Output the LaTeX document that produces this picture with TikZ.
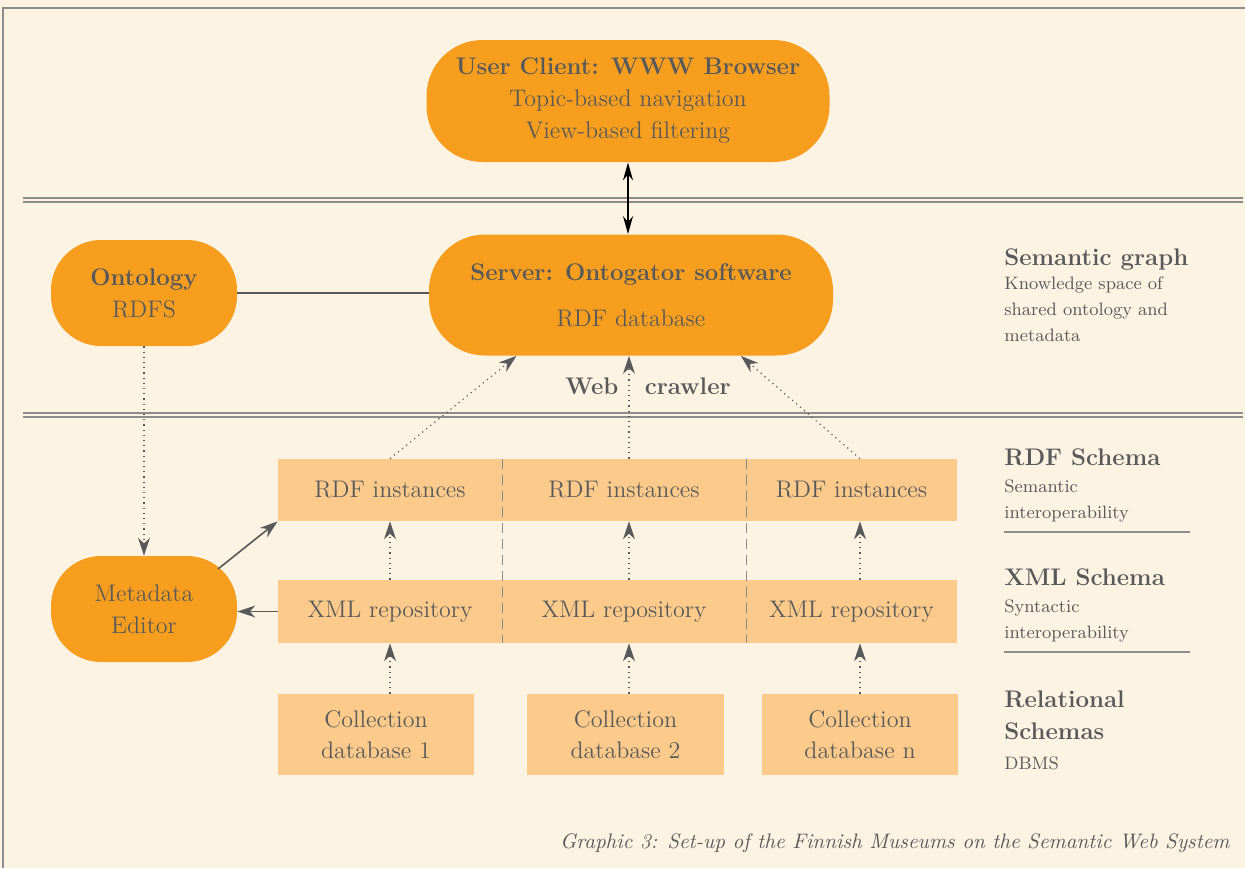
\documentclass[tikz,border=0pt]{standalone}
\usetikzlibrary{arrows.meta}
\definecolor{paper}{HTML}{FDF3E3}
\definecolor{deeporange}{HTML}{F79E1E}
\definecolor{paleorange}{HTML}{FCCB8B}
\definecolor{inkgray}{HTML}{58595B}
\definecolor{rulegray}{HTML}{8C8C8C}
\begin{document}
\begin{tikzpicture}[x=0.5pt,y=-0.5pt,
        bigbox/.style={fill=deeporange,rounded corners=28pt,inner sep=0pt,align=center,
            text=inkgray,font=\fontsize{12}{16}\selectfont},
        smallbox/.style={bigbox,rounded corners=25pt},
        rowbox/.style={fill=paleorange,inner sep=0pt,align=center,text=inkgray,
            font=\fontsize{12}{15.5}\selectfont},
        headtxt/.style={inner sep=0pt,align=left,text=inkgray,font=\bfseries\fontsize{12}{16}\selectfont},
        notetxt/.style={inner sep=0pt,align=left,text=inkgray,font=\fontsize{9}{13}\selectfont},
        dotarrow/.style={dotted,draw=inkgray,line width=0.6pt,-{Stealth[length=9pt,width=6pt]}},
        fullarrow/.style={draw=inkgray,line width=0.8pt,-{Stealth[length=9pt,width=6pt]}},
        bothway/.style={draw=black,line width=0.9pt,{Stealth[length=9pt,width=5pt]}-{Stealth[length=9pt,width=5pt]}}]
    \fill[paper] (0,0) rectangle (1245,868);
    \useasboundingbox (0,0) rectangle (1245,868);
    \draw[rulegray,line width=1pt] (3,868)--(3,8)--(1245,8);
    \draw[rulegray,line width=0.8pt]
        (23,198)--(1243,198) (23,202)--(1243,202)
        (23,413)--(1243,413) (23,417)--(1243,417);

    \coordinate (colA) at (390,0);
    \coordinate (colB) at (629,0);
    \coordinate (colC) at (860,0);

    \node[bigbox,minimum width=201.5pt,minimum height=61pt] (client) at (628,101)
        {{\bfseries User Client: WWW Browser}\\ Topic-based navigation\\ View-based filtering};
    \node[bigbox,minimum width=202pt,minimum height=60.5pt] (server) at (631,295)
        {{\bfseries Server: Ontogator software}\\[7pt] RDF database};
    \node[smallbox,minimum width=93pt,minimum height=53pt] (onto) at (144,293)
        {{\bfseries Ontology}\\ RDFS};
    \node[smallbox,minimum width=93pt,minimum height=53pt] (meta) at (144,609)
        {Metadata\\ Editor};

    \node[rowbox,minimum width=112pt,minimum height=31pt] (rdfA) at (390,490) {RDF instances};
    \node[rowbox,minimum width=122pt,minimum height=31pt] (rdfB) at (624,490) {RDF instances};
    \node[rowbox,minimum width=105.5pt,minimum height=31pt] (rdfC) at (851.5,490) {RDF instances};
    \node[rowbox,minimum width=112pt,minimum height=31.5pt] (xmlA) at (390,611.5) {XML repository};
    \node[rowbox,minimum width=122pt,minimum height=31.5pt] (xmlB) at (624,611.5) {XML repository};
    \node[rowbox,minimum width=105.5pt,minimum height=31.5pt] (xmlC) at (851.5,611.5) {XML repository};
    \node[rowbox,minimum width=98pt,minimum height=40.5pt] (coll1) at (376,734.5) {Collection\\ database 1};
    \node[rowbox,minimum width=98.5pt,minimum height=40.5pt] (coll2) at (625.5,734.5) {Collection\\ database 2};
    \node[rowbox,minimum width=98pt,minimum height=40.5pt] (coll3) at (860,734.5) {Collection\\ database n};

    \draw[rulegray,line width=0.9pt,dash pattern=on 5pt off 3pt]
        (rdfA.north east)--(xmlA.south east) (rdfB.north east)--(xmlB.south east);

    \draw[bothway] (client.south)--(client.south |- server.north);
    \draw[inkgray,line width=0.8pt] (onto.east)--(onto.east -| server.west);
    \draw[dotarrow] (onto.south)--(meta.north);
    \coordinate (metaout) at (218,569);
    \draw[fullarrow] (metaout)--(rdfA.south west);
    \draw[fullarrow] (xmlA.west)--(xmlA.west -| meta.east);

    \draw[dotarrow] (coll1.north -| colA)--(xmlA.south -| colA);
    \draw[dotarrow] (coll2.north -| colB)--(xmlB.south -| colB);
    \draw[dotarrow] (coll3.north -| colC)--(xmlC.south -| colC);
    \draw[dotarrow] (xmlA.north -| colA)--(rdfA.south -| colA);
    \draw[dotarrow] (xmlB.north -| colB)--(rdfB.south -| colB);
    \draw[dotarrow] (xmlC.north -| colC)--(rdfC.south -| colC);
    \draw[dotarrow] (rdfA.north -| colA)--(server.208);
    \draw[dotarrow] (rdfB.north -| colB)--(server.south -| colB);
    \draw[dotarrow] (rdfC.north -| colC)--(server.331);
    \node[headtxt] (crawler) at (648,386) {Web\hspace{1.1em}crawler};

    \node[headtxt,anchor=base west] (semhead) at (1004,265) {Semantic graph};
    \node[notetxt,anchor=north west] (semnote) at (1004,276) {Knowledge space of\\ shared ontology and\\ metadata};
    \node[headtxt,anchor=base west] (rdfhead) at (1004,465) {RDF Schema};
    \node[notetxt,anchor=north west] (rdfnote) at (1004,479) {Semantic\\ interoperability};
    \draw[rulegray,line width=1.2pt] (1004,532)--(1190,532);
    \node[headtxt,anchor=base west] (xmlhead) at (1004,585) {XML Schema};
    \node[notetxt,anchor=north west] (xmlnote) at (1004,599) {Syntactic\\ interoperability};
    \draw[rulegray,line width=1.2pt] (1004,652)--(1190,652);
    \node[headtxt,anchor=north west] (relhead) at (1004,690) {Relational\\ Schemas};
    \node[notetxt,anchor=north west] (relnote) at (1004,756) {DBMS};

    \node[anchor=base east,inner sep=0pt,text=inkgray,font=\itshape\fontsize{10.5}{13}\selectfont] (caption)
        at (1230,848) {Graphic 3: Set-up of the Finnish Museums on the Semantic Web System};
\end{tikzpicture}
\end{document}
